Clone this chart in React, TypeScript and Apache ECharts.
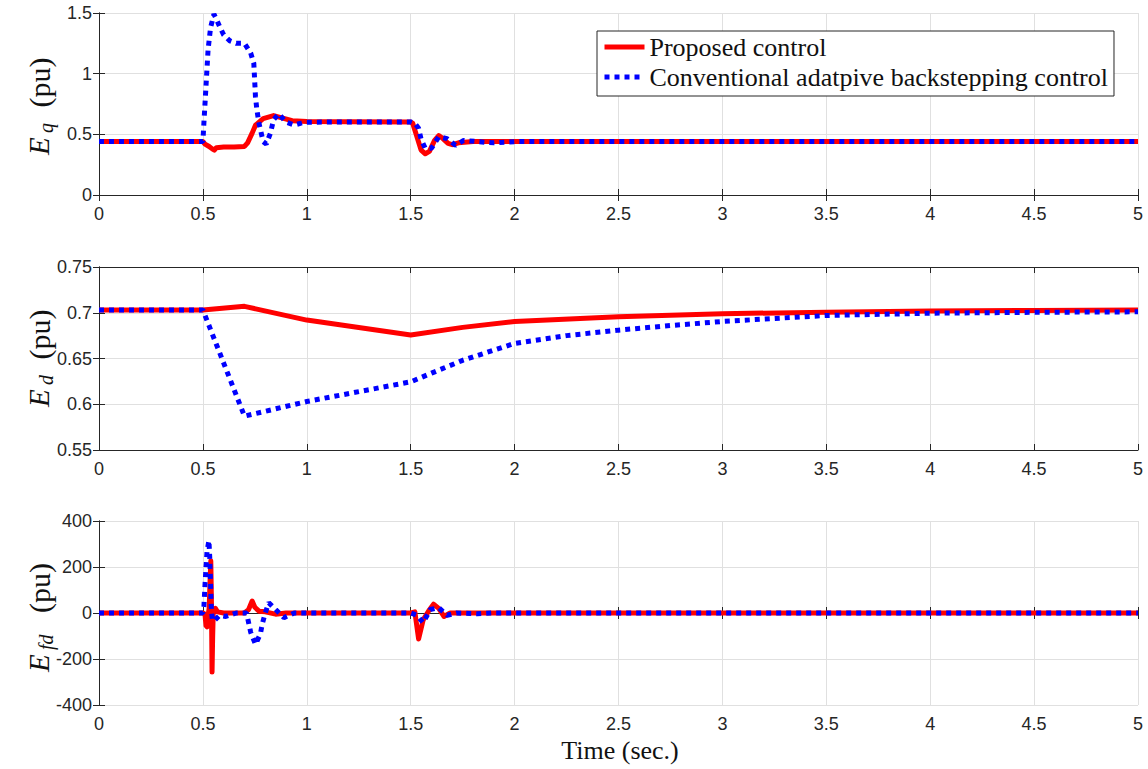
import React, { useEffect, useRef } from "react";
import * as echarts from "echarts";

// ---------- data (time in s, value) ----------
const seriesNames = ["Proposed control", "Conventional adatpive backstepping control"];
const timeTicks = { min: 0, max: 5, interval: 0.5 };

const eqProposed: [number, number][] = [
  [0, 0.44], [0.5, 0.44], [0.51, 0.42], [0.53, 0.4], [0.545, 0.38], [0.555, 0.37], [0.565, 0.39],
  [0.6, 0.395], [0.65, 0.395], [0.7, 0.4], [0.715, 0.43], [0.737, 0.51], [0.753, 0.575],
  [0.79, 0.63], [0.84, 0.655], [0.88, 0.635], [0.93, 0.612], [1.0, 0.605], [1.2, 0.603],
  [1.5, 0.602], [1.51, 0.59], [1.53, 0.48], [1.55, 0.37], [1.57, 0.34], [1.59, 0.36],
  [1.615, 0.45], [1.635, 0.49], [1.655, 0.465], [1.68, 0.425], [1.7, 0.415], [1.73, 0.43],
  [1.8, 0.44], [5, 0.44],
];
const eqConventional: [number, number][] = [
  [0, 0.44], [0.5, 0.44], [0.505, 0.6], [0.515, 0.9], [0.525, 1.2], [0.537, 1.38], [0.553, 1.49],
  [0.565, 1.45], [0.58, 1.39], [0.6, 1.32], [0.63, 1.27], [0.66, 1.25], [0.7, 1.25],
  [0.73, 1.17], [0.745, 1.085], [0.753, 0.81], [0.76, 0.7], [0.77, 0.59], [0.79, 0.44],
  [0.805, 0.42], [0.825, 0.51], [0.84, 0.62], [0.865, 0.67], [0.9, 0.6], [0.94, 0.577],
  [0.99, 0.6], [1.2, 0.602], [1.5, 0.602], [1.52, 0.59], [1.538, 0.55], [1.55, 0.46],
  [1.57, 0.385], [1.6, 0.385], [1.635, 0.48], [1.675, 0.465], [1.715, 0.41], [1.755, 0.45],
  [1.82, 0.44], [1.9, 0.43], [2.0, 0.44], [5, 0.44],
];

const edProposed: [number, number][] = [
  [0, 0.703], [0.5, 0.703], [0.7, 0.707], [1.0, 0.692], [1.5, 0.6756], [1.75, 0.684],
  [2.0, 0.6905], [2.5, 0.6955], [3.0, 0.699], [3.5, 0.7005], [4.0, 0.702], [4.5, 0.7025],
  [5, 0.703],
];
const edConventional: [number, number][] = [
  [0, 0.703], [0.5, 0.703], [0.6, 0.645], [0.7, 0.587], [1.0, 0.603], [1.5, 0.6245],
  [1.6, 0.634], [1.75, 0.648], [2.0, 0.6665], [2.25, 0.675], [2.5, 0.681], [2.75, 0.686],
  [3.0, 0.6905], [3.5, 0.697], [4.0, 0.6995], [4.5, 0.7005], [5, 0.701],
];

const efdProposed: [number, number][] = [
  [0, 0], [0.5, 0], [0.51, -5], [0.515, -55], [0.52, -60], [0.525, -10], [0.53, 20],
  [0.535, 150], [0.538, 227], [0.541, 50], [0.544, -257], [0.547, -100], [0.55, 10],
  [0.56, 20], [0.57, 5], [0.6, 0], [0.7, 0], [0.72, 15], [0.737, 52], [0.75, 25], [0.77, 8],
  [0.8, 5], [0.85, -5], [0.9, 0], [1.5, 0], [1.52, 5], [1.538, -113], [1.56, -30],
  [1.587, 10], [1.61, 38], [1.635, 20], [1.66, -15], [1.69, 0], [5, 0],
];
const efdConventional: [number, number][] = [
  [0, 0], [0.5, 0], [0.505, 30], [0.51, 120], [0.515, 200], [0.52, 270], [0.529, 315],
  [0.533, 240], [0.537, 130], [0.54, 30], [0.545, -30], [0.553, -35], [0.58, -10],
  [0.61, -15], [0.66, 0], [0.71, 0], [0.72, -42], [0.73, -84], [0.753, -136], [0.777, -90],
  [0.785, -50], [0.8, 0], [0.817, 45], [0.85, 15], [0.89, -20], [0.94, 0], [1.5, 0],
  [1.53, -10], [1.56, -42], [1.594, 15], [1.635, 23], [1.675, -10], [1.72, 0], [1.82, -3],
  [1.9, 0], [5, 0],
];

const yRanges = [
  { min: 0, max: 1.5, interval: 0.5 },
  { min: 0.55, max: 0.75, interval: 0.05 },
  { min: -400, max: 400, interval: 200 },
];
const yNames = [
  { sub: "q", eBottom: 155 },
  { sub: "d", eBottom: 407 },
  { sub: "fd", eBottom: 672 },
];
const panels = [
  [eqProposed, eqConventional],
  [edProposed, edConventional],
  [efdProposed, efdConventional],
];

const AXIS = "#262626";
const GRIDC = "#e0e0e0";

export default function App() {
  const ref = useRef<HTMLDivElement>(null);
  useEffect(() => {
    if (!ref.current) return;
    const chart = echarts.init(ref.current, undefined, { renderer: "svg" });
    const grids = [
      { left: 99, right: 10, top: 13, height: 182 },
      { left: 99, right: 10, top: 267, height: 183 },
      { left: 99, right: 10, top: 521, height: 184 },
    ];
    const xAxes: any[] = [];
    const yAxes: any[] = [];
    for (let g = 0; g < 3; g++) {
      xAxes.push({
        type: "value", gridIndex: g, ...timeTicks, position: "bottom",
        axisLine: { show: true, lineStyle: { color: AXIS, width: 1 } },
        axisTick: { show: true, inside: true, length: 6, lineStyle: { color: AXIS } },
        splitLine: { show: true, lineStyle: { color: GRIDC, width: 1 } },
        axisLabel: { color: AXIS, fontSize: 18, fontFamily: "Liberation Sans", margin: 10 },
      });
      yAxes.push({
        type: "value", gridIndex: g, ...yRanges[g], position: "left",
        axisLine: { show: true, lineStyle: { color: AXIS, width: 1 } },
        axisTick: { show: true, inside: true, length: 6, lineStyle: { color: AXIS } },
        splitLine: { show: true, lineStyle: { color: GRIDC, width: 1 } },
        axisLabel: { color: AXIS, fontSize: 18, fontFamily: "Liberation Sans", margin: 7 },
      });
    }
    for (let g = 0; g < 3; g++) {
      xAxes.push({
        type: "value", gridIndex: g, ...timeTicks, position: "top",
        axisLine: { show: true, lineStyle: { color: AXIS, width: 1 } },
        axisTick: { show: true, inside: true, length: 6, lineStyle: { color: AXIS } },
        splitLine: { show: false }, axisLabel: { show: false },
      });
      yAxes.push({
        type: "value", gridIndex: g, ...yRanges[g], position: "right",
        axisLine: { show: true, lineStyle: { color: AXIS, width: 1 } },
        axisTick: { show: true, inside: true, length: 6, lineStyle: { color: AXIS } },
        splitLine: { show: false }, axisLabel: { show: false },
      });
    }
    const series: any[] = [];
    panels.forEach((pair, g) => {
      series.push({
        name: seriesNames[0], type: "line", xAxisIndex: g, yAxisIndex: g, data: pair[0],
        symbol: "none", z: 2, itemStyle: { color: "#ff0000" },
        lineStyle: { color: "#ff0000", width: 5, type: "solid", join: "round" },
      });
      series.push({
        name: seriesNames[1], type: "line", xAxisIndex: g, yAxisIndex: g, data: pair[1],
        symbol: "none", z: 3, itemStyle: { color: "#0000ff" },
        lineStyle: { color: "#0000ff", width: 5, type: "dotted" },
      });
    });
    const graphics: any[] = yNames.map((n) => {
      const subW = n.sub.length * 11.5;
      return {
        type: "group", x: 39, y: n.eBottom, rotation: Math.PI / 2,
        children: [
          { type: "text", x: 0, y: 0, style: { text: "E", font: "italic 29px 'Liberation Serif'", fill: "#111", align: "left", verticalAlign: "middle" } },
          { type: "text", x: 22, y: 7, style: { text: n.sub, font: "italic 20px 'Liberation Serif'", fill: "#111", align: "left", verticalAlign: "middle" } },
          { type: "text", x: 22 + subW + 14, y: 0, style: { text: "(pu)", font: "30px 'Liberation Serif'", fill: "#111", align: "left", verticalAlign: "middle" } },
        ],
      };
    });
    graphics.push({
      type: "text", x: 620, y: 750,
      style: { text: "Time (sec.)", font: "26px 'Liberation Serif'", fill: "#111", align: "center", verticalAlign: "middle" },
    });
    chart.setOption({
      animation: false,
      backgroundColor: "#ffffff",
      grid: grids,
      xAxis: xAxes,
      yAxis: yAxes,
      legend: {
        orient: "vertical", left: 597, top: 31, padding: [1, 6, 4, 5], itemGap: 0,
        itemWidth: 40, itemHeight: 14, backgroundColor: "#ffffff",
        borderColor: AXIS, borderWidth: 1, borderRadius: 0,
        lineStyle: { width: 5 },
        itemStyle: { opacity: 0 },
        textStyle: { fontFamily: "Liberation Serif", fontSize: 26, color: "#111", lineHeight: 30 },
        data: seriesNames,
      },
      series,
      graphic: graphics,
    });
    return () => chart.dispose();
  }, []);
  return <div ref={ref} style={{ position: "fixed", left: 0, top: 0, width: 1148, height: 769 }} />;
}
